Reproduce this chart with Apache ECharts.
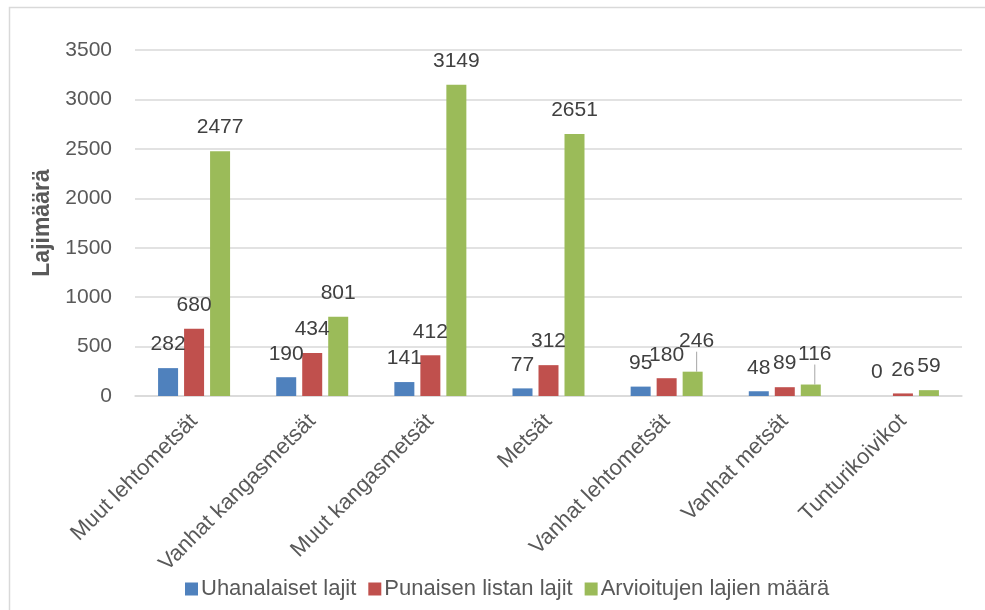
<!DOCTYPE html>
<html>
<head>
<meta charset="utf-8">
<script src="https://cdn.jsdelivr.net/npm/echarts@6/dist/echarts.min.js"></script>
<style>
  html, body { margin: 0; padding: 0; background: #fff; }
  #chart { width: 985px; height: 610px; }
</style>
</head>
<body>
<div id="chart"></div>
<script>
const categories = [
  "Muut lehtometsät",
  "Vanhat kangasmetsät",
  "Muut kangasmetsät",
  "Metsät",
  "Vanhat lehtometsät",
  "Vanhat metsät",
  "Tunturikoivikot",
];
const uhanalaiset = [282, 190, 141, 77, 95, 48, 0];
const punainenLista = [680, 434, 412, 312, 180, 89, 26];
const arvioidut = [2477, 801, 3149, 2651, 246, 116, 59];
const seriesNames = ["Uhanalaiset lajit", "Punaisen listan lajit", "Arvioitujen lajien määrä"];
const yTicks = { min: 0, max: 3500, interval: 500 };
// labels that Excel lifted up with a leader line (green series)
const liftedLabels = [4, 5];

const font = "Liberation Sans";
const colors = ["#4f81bd", "#c0504d", "#9bbb59"];

const chart = echarts.init(document.getElementById("chart"));

const makeSeries = (name, data, color, lifted = []) => ({
  name,
  type: "bar",
  data: data.map((v, i) =>
    lifted.includes(i) ? { value: v, labelLine: { show: true } } : v
  ),
  barWidth: 20,
  barGap: "30%",
  itemStyle: { color },
  label: {
    show: true,
    position: "top",
    distance: 13,
    color: "#404040",
    fontFamily: font,
    fontSize: 21,
  },
  labelLine: { show: false, lineStyle: { color: "#a6a6a6", width: 1 } },
});

const series = [
  makeSeries(seriesNames[0], uhanalaiset, colors[0]),
  makeSeries(seriesNames[1], punainenLista, colors[1]),
  makeSeries(seriesNames[2], arvioidut, colors[2], liftedLabels),
];
series[2].labelLayout = (params) => {
  if (liftedLabels.includes(params.dataIndex)) {
    return { dx: 4, dy: -7 };
  }
  return {};
};

chart.setOption({
  animation: false,
  textStyle: { fontFamily: font },
  graphic: [
    {
      type: "rect",
      shape: { x: 9.5, y: 7.5, width: 1200, height: 800 },
      style: { fill: "none", stroke: "#d9d9d9", lineWidth: 1.5 },
      silent: true,
    },
  ],
  grid: { left: 135, right: 23, top: 50, bottom: 214 },
  legend: {
    bottom: 5,
    left: 180,
    itemWidth: 13,
    itemHeight: 13,
    itemGap: 12,
    icon: "rect",
    textStyle: { color: "#595959", fontSize: 22, fontFamily: font, padding: [0, 0, 0, -2] },
    data: seriesNames,
  },
  xAxis: {
    type: "category",
    data: categories,
    axisLine: { lineStyle: { color: "#d9d9d9", width: 1.5 } },
    axisTick: { show: false },
    axisLabel: {
      rotate: 45,
      margin: 22,
      color: "#595959",
      fontSize: 22,
      fontFamily: font,
      interval: 0,
    },
  },
  yAxis: {
    type: "value",
    min: yTicks.min,
    max: yTicks.max,
    interval: yTicks.interval,
    name: "Lajimäärä",
    nameLocation: "middle",
    nameGap: 81,
    nameTextStyle: { color: "#595959", fontSize: 23, fontWeight: "bold", fontFamily: font },
    axisLine: { show: false },
    axisTick: { show: false },
    axisLabel: {
      color: "#595959",
      fontSize: 21,
      fontFamily: font,
      margin: 23,
      formatter: (v) => String(v),
    },
    splitLine: { lineStyle: { color: "#d9d9d9", width: 1.5 } },
  },
  series,
});
</script>
</body>
</html>
